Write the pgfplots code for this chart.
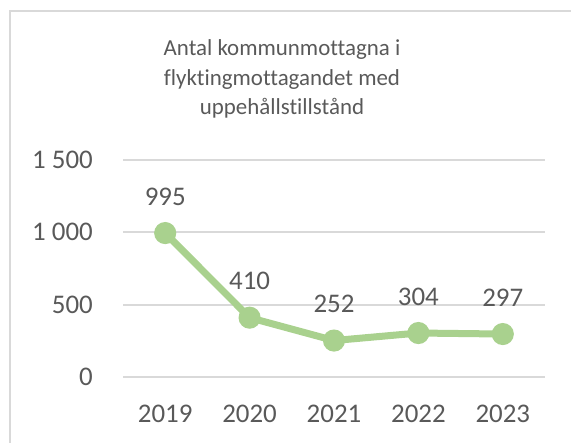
\documentclass[border=0pt]{standalone}
\usepackage{fontspec}
\setmainfont{Carlito}[Ligatures={NoCommon}]
\usepackage{pgfplots}
\pgfplotsset{compat=1.18}
\definecolor{ctext}{HTML}{595959}
\definecolor{cgrid}{HTML}{D9D9D9}
\definecolor{cline}{HTML}{A9D18E}

\begin{document}
\begin{tikzpicture}
\useasboundingbox (0,0) rectangle (571bp,443bp);
\clip (0,0) rectangle (571bp,443bp);
% chart frame, only top and left edges visible
\draw[cgrid, line width=2bp] (10bp,-20bp) |- (600bp,432bp);
\node[ctext, align=center, font=\fontsize{23}{30}\selectfont]
  at (282bp,364bp) {Antal kommunmottagna i\\flyktingmottagandet med\\uppehållstillstånd};
\begin{axis}[
  at={(123bp,66bp)}, anchor=south west,
  scale only axis, width=422bp, height=217bp,
  xmin=-0.5, xmax=4.5, ymin=0, ymax=1500,
  xtick=data, xticklabels={2019,2020,2021,2022,2023},
  ytick={0,500,1000,1500},
  axis line style={draw=none}, major tick length=0pt,
  ymajorgrids, grid style={cgrid, line width=2bp},
  tick label style={ctext, font=\fontsize{27}{32}\selectfont},
  /pgf/number format/.cd, 1000 sep={\ }, assume math mode=true, /pgfplots/.cd,
  yticklabel style={anchor=east, inner sep=0pt, xshift=-30bp},
  xticklabel style={anchor=base, inner sep=0pt, yshift=-45bp},
  clip=false,
  nodes near coords,
  every node near coord/.append style={ctext, font=\fontsize{27}{32}\selectfont,
    anchor=base, inner sep=0pt, yshift=28bp},
]
\addplot[cline, line width=7bp, mark=*, mark size=7.5bp,
  mark options={fill=cline, draw=none}]
  coordinates {(0,995) (1,410) (2,252) (3,304) (4,297)};
\end{axis}
\end{tikzpicture}
\end{document}
